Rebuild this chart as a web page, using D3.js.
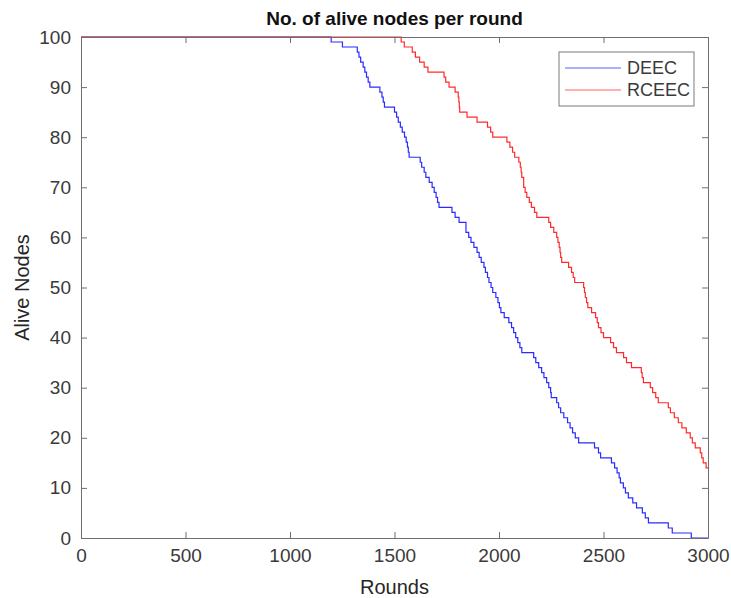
<!DOCTYPE html>
<html>
<head>
<meta charset="utf-8">
<script src="https://cdn.jsdelivr.net/npm/d3@7"></script>
<style>
	body { margin: 0; background: #fff; }
	svg { font-family: "Liberation Sans", Arial, sans-serif; }
</style>
</head>
<body>
<svg id="chart" width="731" height="598"></svg>
<script>
// series names and colours
const seriesNames = ['DEEC', 'RCEEC'];
const seriesColors = ['#2b2bff', '#ff2b2b'];

// round at which the count changes, and the count after it
const deecRounds = [0, 1197, 1251, 1322, 1330, 1338, 1350, 1358, 1366, 1374, 1382, 1430, 1440, 1446, 1452,
	1500, 1510, 1518, 1528, 1537, 1548, 1556, 1562, 1566, 1570, 1623, 1630, 1642, 1650, 1666, 1680,
	1690, 1699, 1706, 1713, 1775, 1790, 1809, 1842, 1855, 1866, 1880, 1895, 1905, 1915, 1928, 1935,
	1945, 1952, 1962, 1970, 1985, 1995, 2002, 2009, 2025, 2047, 2060, 2070, 2080, 2090, 2100, 2109,
	2166, 2176, 2190, 2204, 2215, 2228, 2238, 2247, 2250, 2276, 2285, 2295, 2310, 2328, 2340, 2352,
	2365, 2381, 2457, 2476, 2486, 2538, 2553, 2565, 2575, 2581, 2595, 2605, 2619, 2640, 2658, 2686,
	2700, 2715, 2810, 2829, 2920, 3000];
const deecAlive = [100, 99, 98, 97, 96, 95, 94, 93, 92, 91, 90, 89, 88, 87, 86,
	85, 84, 83, 82, 81, 80, 79, 78, 77, 76, 75, 74, 73, 72, 71, 70,
	69, 68, 67, 66, 65, 64, 63, 61, 60, 59, 58, 57, 56, 55, 54, 53,
	52, 51, 50, 49, 48, 47, 46, 45, 44, 43, 42, 41, 40, 39, 38, 37,
	36, 35, 34, 33, 32, 31, 30, 29, 28, 27, 26, 25, 24, 23, 22, 21,
	20, 19, 18, 17, 16, 15, 14, 13, 12, 11, 10, 9, 8, 7, 6, 5,
	4, 3, 2, 1, 0, 0];

const rceecRounds = [0, 1532, 1547, 1585, 1600, 1620, 1642, 1660, 1737, 1745, 1761, 1790, 1805, 1808, 1810,
	1812, 1815, 1847, 1895, 1945, 1960, 1970, 2038, 2052, 2065, 2075, 2095, 2102, 2106, 2109, 2118,
	2125, 2133, 2145, 2155, 2170, 2181, 2238, 2247, 2262, 2276, 2282, 2288, 2292, 2295, 2300, 2333,
	2347, 2355, 2362, 2405, 2409, 2413, 2419, 2425, 2443, 2462, 2470, 2476, 2488, 2500, 2534, 2548,
	2562, 2596, 2610, 2634, 2681, 2685, 2691, 2724, 2735, 2750, 2762, 2810, 2820, 2839, 2858, 2875,
	2896, 2915, 2925, 2939, 2963, 2970, 2977, 2991, 3000];
const rceecAlive = [100, 99, 98, 97, 96, 95, 94, 93, 92, 91, 90, 89, 88, 87, 86,
	85, 85, 84, 83, 82, 81, 80, 79, 78, 77, 76, 75, 74, 73, 72, 70,
	69, 68, 67, 66, 65, 64, 63, 62, 61, 60, 59, 58, 57, 56, 55, 54,
	53, 52, 51, 50, 49, 48, 47, 46, 45, 44, 43, 42, 41, 40, 39, 38,
	37, 36, 35, 34, 33, 32, 31, 30, 29, 28, 27, 26, 25, 24, 23, 22,
	21, 20, 19, 18, 17, 16, 15, 14, 14];

// axis ticks
const xTicks = [0, 500, 1000, 1500, 2000, 2500, 3000];
const yTicks = [0, 10, 20, 30, 40, 50, 60, 70, 80, 90, 100];

const svg = d3.select('#chart');
const plot = {left: 81, right: 708, top: 37, bottom: 538};

const x = d3.scaleLinear().domain([0, 3000]).range([plot.left, plot.right]);
const y = d3.scaleLinear().domain([0, 100]).range([plot.bottom, plot.top]);

const axisColor = '#6e6e6e';
const textColor = '#3a3a3a';

svg.append('clipPath').attr('id', 'clip')
	.append('rect')
	.attr('x', plot.left).attr('y', plot.top - 1)
	.attr('width', plot.right - plot.left + 1)
	.attr('height', plot.bottom - plot.top + 2);

// series lines
const series = [
	{rounds: deecRounds, alive: deecAlive},
	{rounds: rceecRounds, alive: rceecAlive}
];
const line = d3.line()
	.x(d => x(d[0]))
	.y(d => y(d[1]))
	.curve(d3.curveStepAfter);

series.forEach((s, i) => {
	const pts = s.rounds.map((r, j) => [r, s.alive[j]]);
	svg.append('path')
		.datum(pts)
		.attr('clip-path', 'url(#clip)')
		.attr('fill', 'none')
		.attr('stroke', seriesColors[i])
		.attr('stroke-width', 1.2)
		.attr('d', line);
});

// axes (box with inward ticks on all four sides)
function styleAxis(g) {
	g.selectAll('.domain').attr('stroke', axisColor);
	g.selectAll('.tick line').attr('stroke', axisColor);
	g.selectAll('.tick text')
		.attr('fill', textColor)
		.style('font-size', '19px')
		.style('font-family', '"Liberation Sans", Arial, sans-serif');
}

svg.append('g')
	.attr('transform', `translate(0,${plot.bottom})`)
	.call(d3.axisBottom(x).tickValues(xTicks).tickFormat(d3.format('d'))
		.tickSizeInner(-6).tickSizeOuter(0).tickPadding(11))
	.call(styleAxis);

svg.append('g')
	.attr('transform', `translate(0,${plot.top})`)
	.call(d3.axisTop(x).tickValues(xTicks).tickSizeInner(-6).tickSizeOuter(0).tickFormat(''))
	.call(styleAxis);

svg.append('g')
	.attr('transform', `translate(${plot.left},0)`)
	.call(d3.axisLeft(y).tickValues(yTicks).tickSizeInner(-6).tickSizeOuter(0).tickPadding(10))
	.call(styleAxis);

svg.append('g')
	.attr('transform', `translate(${plot.right},0)`)
	.call(d3.axisRight(y).tickValues(yTicks).tickSizeInner(-6).tickSizeOuter(0).tickFormat(''))
	.call(styleAxis);

// title and axis labels
svg.append('text')
	.attr('x', (plot.left + plot.right) / 2).attr('y', 25)
	.attr('text-anchor', 'middle')
	.attr('fill', '#111')
	.style('font-size', '19px')
	.style('font-weight', 'bold')
	.text('No. of alive nodes per round');

svg.append('text')
	.attr('x', (plot.left + plot.right) / 2).attr('y', 594)
	.attr('text-anchor', 'middle')
	.attr('fill', '#262626')
	.style('font-size', '20px')
	.text('Rounds');

svg.append('text')
	.attr('transform', `translate(29,${(plot.top + plot.bottom) / 2}) rotate(-90)`)
	.attr('text-anchor', 'middle')
	.attr('fill', '#262626')
	.style('font-size', '20px')
	.text('Alive Nodes');

// legend
const legend = svg.append('g').attr('transform', 'translate(559,52)');
legend.append('rect')
	.attr('width', 135).attr('height', 54)
	.attr('fill', '#fff')
	.attr('stroke', '#7a7a7a');

seriesNames.forEach((name, i) => {
	const row = legend.append('g').attr('transform', `translate(0,${16 + i * 22})`);
	row.append('line')
		.attr('x1', 6).attr('x2', 62)
		.attr('stroke', seriesColors[i])
		.attr('stroke-opacity', 0.75)
		.attr('stroke-width', 1.2);
	row.append('text')
		.attr('x', 68).attr('dy', '0.35em')
		.attr('fill', textColor)
		.style('font-size', '18px')
		.text(name);
});
</script>
</body>
</html>
